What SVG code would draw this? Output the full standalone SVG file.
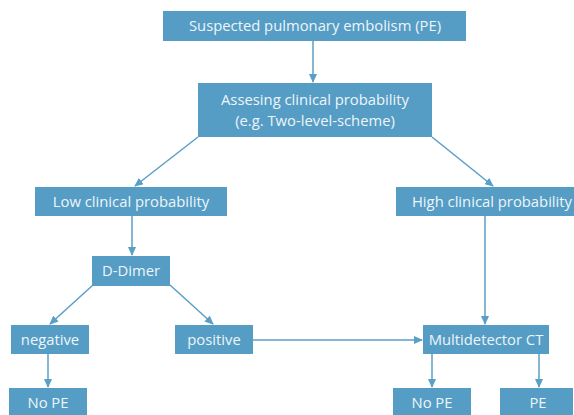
<svg xmlns="http://www.w3.org/2000/svg" width="574" height="415" viewBox="0 0 574 415">
<style>
.box{fill:#559dc4}
.t{font-family:"Open Sans","Noto Sans",sans-serif;font-size:14.8px;fill:#eef5fa;text-anchor:middle}
.c{stroke:#5a9fc6;stroke-width:1.5;fill:none;marker-end:url(#ah)}
</style>
<defs>
<marker id="ah" markerWidth="9" markerHeight="8" refX="8" refY="4" orient="auto" markerUnits="userSpaceOnUse">
<path d="M0,0 L9,4 L0,8 Z" fill="#5a9fc6"/>
</marker>
</defs>
<g id="connectors">
<line class="c" x1="313" y1="41" x2="313" y2="82"/>
<line class="c" x1="198" y1="137" x2="135" y2="186"/>
<line class="c" x1="432" y1="137" x2="493" y2="186"/>
<line class="c" x1="132" y1="216" x2="132" y2="255"/>
<line class="c" x1="93" y1="285" x2="50" y2="324"/>
<line class="c" x1="170" y1="285" x2="213" y2="324"/>
<line class="c" x1="48" y1="354" x2="48" y2="387"/>
<line class="c" x1="485" y1="216" x2="485" y2="324"/>
<line class="c" x1="253" y1="340" x2="422" y2="340"/>
<line class="c" x1="432" y1="354" x2="432" y2="387"/>
<line class="c" x1="539" y1="354" x2="539" y2="387"/>
</g>
<g id="suspected">
<rect class="box" x="163" y="11" width="303" height="30"/>
<text class="t" x="315" y="31">Suspected pulmonary embolism (PE)</text>
</g>
<g id="assessing">
<rect class="box" x="198" y="83" width="234" height="54"/>
<text class="t" x="315" y="105">Assesing clinical probability</text>
<text class="t" x="315" y="126">(e.g. Two-level-scheme)</text>
</g>
<g id="low">
<rect class="box" x="35" y="187" width="192" height="29"/>
<text class="t" x="131" y="207">Low clinical probability</text>
</g>
<g id="high">
<rect class="box" x="396" y="187" width="178" height="29"/>
<text class="t" x="492" y="207">High clinical probability</text>
</g>
<g id="ddimer">
<rect class="box" x="92" y="256" width="78" height="30"/>
<text class="t" x="131" y="276">D-Dimer</text>
</g>
<g id="negative">
<rect class="box" x="11" y="325" width="78" height="29"/>
<text class="t" x="50" y="345">negative</text>
</g>
<g id="positive">
<rect class="box" x="175" y="325" width="78" height="29"/>
<text class="t" x="214" y="345">positive</text>
</g>
<g id="ct">
<rect class="box" x="423" y="325" width="126" height="29"/>
<text class="t" x="486" y="345">Multidetector CT</text>
</g>
<g id="nope-left">
<rect class="box" x="9" y="388" width="78" height="27"/>
<text class="t" x="48" y="408">No PE</text>
</g>
<g id="nope-right">
<rect class="box" x="393" y="388" width="78" height="27"/>
<text class="t" x="432" y="408">No PE</text>
</g>
<g id="pe">
<rect class="box" x="500" y="388" width="73" height="27"/>
<text class="t" x="538" y="408">PE</text>
</g>
</svg>
